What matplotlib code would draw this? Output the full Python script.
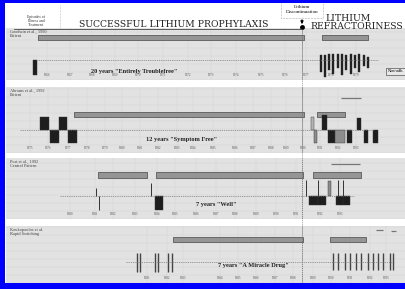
import numpy as np
import matplotlib.pyplot as plt

plt.rcParams['font.family'] = ['Liberation Serif', 'DejaVu Serif']

W, H = 406, 289

# time axis runs 0..100 (arbitrary units) for every panel
li_stop = 74.0  # lithium discontinued -> refractoriness

panel_names = ['Goodwin et al., 1990\nPatient', 'Abrams et al., 1992\nPatient',
               'Post et al., 1992\nCentral Pattern', 'Koukopoulos et al.\nRapid Switching']
panel_notes = ['20 years "Entirely Troublefree"', '12 years "Symptom Free"',
               '7 years "Well"', '7 years "A Miracle Drug"']

# lithium treatment periods (start, end)
p1_lithium = [(8.0, 74.5), (79.0, 90.5)]
p2_lithium = [(17.0, 74.5), (77.75, 84.75)]
p3_lithium = [(23.0, 35.25), (37.5, 74.25), (76.75, 88.75)]
p4_lithium = [(41.75, 74.25), (81.0, 90.0)]
lithium_level = [2.25, 1.55, 2.1, 2.25]

# other medication lines (start, end, level)
p2_other = [(83.75, 88.75, 3.2)]
p3_other = [(81.25, 88.5, 3.2)]
p4_other = [(92.5, 94.25, 3.2), (96.25, 97.5, 3.1)]

# mood episodes: start, end, level (+ mania, - depression), severity 1..3
p1_start = [6.75, 78.5, 78.5, 79.5, 79.5, 80.5, 80.5, 81.5, 81.5, 82.75, 82.75, 83.75, 83.75,
            84.75, 84.75, 86.0, 86.0, 87.0, 87.0, 88.0, 88.0, 89.25, 89.25, 90.25, 90.25]
p1_end = [7.75, 79.0, 79.0, 80.0, 80.0, 81.0, 81.0, 82.0, 82.0, 83.25, 83.25, 84.25, 84.25,
          85.25, 85.25, 86.5, 86.5, 87.5, 87.5, 88.5, 88.5, 89.75, 89.75, 90.75, 90.75]
p1_level = [-1.5, 0.5, -1.2, 0.5, -1.7, 0.6, -1.0, 0.6, -1.4, 0.6, -0.8, 0.6, -1.5,
            0.5, -1.0, 0.6, -1.4, 0.5, -0.8, 0.6, -1.2, 0.5, -0.6, 0.3, -0.8]
p1_sev = [3] * 25

p2_start = [8.5, 11.0, 13.25, 15.5, 76.25, 77.0, 79.0, 80.5, 82.25, 85.25, 87.75, 89.5, 91.75]
p2_end = [10.75, 13.25, 15.25, 17.75, 77.0, 77.75, 80.25, 82.25, 84.75, 86.5, 88.75, 90.5, 93.0]
p2_level = [1.3, -1.3, 1.3, -1.3, 1.3, -1.3, 1.5, -1.3, -1.3, -1.3, 1.2, -1.3, -1.3]
p2_sev = [3, 3, 3, 3, 1, 2, 3, 3, 2, 3, 3, 3, 3]

p3_start = [37.25, 75.75, 78.0, 80.5, 82.5, 84.25]
p3_end = [39.25, 78.0, 80.0, 81.25, 84.25, 86.0]
p3_level = [-1.45, -0.9, -0.9, 1.5, -0.9, -0.9]
p3_sev = [3, 3, 3, 2, 3, 3]
# brief switches drawn as thin strokes (time, level)
p3_spike_x = [22.5, 23.25, 36.25, 75.0, 78.0, 83.0, 84.25]
p3_spike_y = [0.8, -1.4, 1.3, 1.6, 1.6, 1.6, 1.6]

p4_spike_x = [32.75, 33.5, 37.25, 38.0, 40.5, 41.5,
              81.75, 83.0, 84.75, 86.0, 87.5, 88.75, 90.5, 91.75, 93.0, 94.25, 96.0, 96.75]
p4_up = [0.9] * 6 + [0.9] * 12
p4_down = [-1.0] * 6 + [-0.8] * 12

# baseline extent and year ticks of each panel
base_span = [(7.5, 93.0), (3.5, 92.0), (13.5, 87.0), (30.0, 97.0)]
p1_ticks = [10.25, 16, 21.5, 27.25, 33, 39.25, 45.5, 51.25, 57.5, 63.75, 69.75, 75, 81.25, 87.5]
p2_ticks = [6, 10.5, 15.5, 20.25, 24.75, 29, 33.5, 38, 42.75, 46.75, 51.75, 57.25, 61.75,
            66.25, 70, 74.25, 78.5, 83, 87.5]
p3_ticks = [16, 22.25, 26.75, 32.25, 37.75, 42.25, 47.5, 52.5, 57.25, 62.5, 67.5, 72.5, 78.5, 83.5]
p4_ticks = [35.25, 40.25, 44.25, 53.5, 58, 62.5, 67.25, 71.75, 76.75, 81.25, 86, 91, 95]
first_year = [1966, 1975, 1980, 1981]

note_pos = [(32.0, -1.1), (44.0, -1.0), (52.5, -0.9), (61.75, -0.35)]

shade = {1: '#b4b4b4', 2: '#8c8c8c', 3: '#1e1e1e'}

fig = plt.figure(figsize=(W / 100, H / 100), dpi=100)
fig.patch.set_facecolor('white')

panel_px = [(28, 80), (87, 153), (158, 219), (226, 283)]
panel_ylim = [(-2.0, 3.2), (-2.3, 4.3), (-2.3, 3.8), (-2.1, 3.6)]
lithiums = [p1_lithium, p2_lithium, p3_lithium, p4_lithium]
others = [[], p2_other, p3_other, p4_other]
episodes = [(p1_start, p1_end, p1_level, p1_sev), (p2_start, p2_end, p2_level, p2_sev),
            (p3_start, p3_end, p3_level, p3_sev), None]
ticks = [p1_ticks, p2_ticks, p3_ticks, p4_ticks]

for i, (top, bot) in enumerate(panel_px):
    ax = fig.add_axes([6 / W, 1 - bot / H, 400 / W, (bot - top) / H])
    ax.set_facecolor('#e2e2e2')
    ax.set_xlim(0, 100)
    ax.set_ylim(*panel_ylim[i])
    for s in ax.spines.values():
        s.set_visible(False)
    ax.set_xticks(ticks[i])
    ax.set_xticklabels([str(first_year[i] + k) for k in range(len(ticks[i]))],
                       fontsize=2.3, color='#555555')
    ax.tick_params(axis='x', length=0, pad=-5)
    ax.set_yticks(np.arange(panel_ylim[i][0], panel_ylim[i][1], 0.8))
    ax.tick_params(axis='y', length=0, labelleft=False)
    ax.grid(True, color='#d3d3d3', lw=0.35)
    ax.set_axisbelow(True)

    ax.hlines(0, *base_span[i], color='#6e6e6e', lw=0.45, ls=(0, (2, 1.5)))

    y = lithium_level[i]
    ax.broken_barh([(a, b - a) for a, b in lithiums[i]], (y - 0.27, 0.54),
                   facecolors='#959595', edgecolors='#5a5a5a', lw=0.6)
    for a, b, lv in others[i]:
        ax.hlines(lv, a, b, color='#777777', lw=0.9)

    if episodes[i] is not None:
        st, en, lv, sv = episodes[i]
        ax.bar(st, lv, width=np.array(en) - np.array(st), align='edge',
               color=[shade[s] for s in sv], edgecolor='#333333', lw=0.3)

    ax.text(1.0, panel_ylim[i][1] - 0.15, panel_names[i], fontsize=3.2, va='top',
            color='#444444', linespacing=1.0)
    ax.text(*note_pos[i], panel_notes[i], fontsize=4.6, fontweight='bold',
            ha='center', va='center', color='#222222')
    ax.axvline(li_stop, color='#777777', lw=0.5, ls=(0, (1.5, 1.5)))

    if i == 0:
        ax.text(97.5, -1.15, 'Non-adh.', fontsize=3.2, ha='center', va='center',
                bbox=dict(boxstyle='square,pad=0.4', fc='#e8e8e8', ec='#555555', lw=0.5))
    if i == 2:
        ax.vlines(p3_spike_x, 0, p3_spike_y, color='#333333', lw=0.7)
    if i == 3:
        ax.vlines(p4_spike_x, 0, p4_up, color='#444444', lw=1.0)
        ax.vlines(p4_spike_x, 0, p4_down, color='#444444', lw=1.0)

# header and the dashed "lithium stopped" line across all panels
over = fig.add_axes([6 / W, 0, 400 / W, 1], facecolor='none')
over.set_xlim(0, 100)
over.set_ylim(0, 1)
over.axis('off')
over.plot([li_stop, li_stop], [1 - 28 / H, 1 - 283 / H], color='#777777', lw=0.5,
          ls=(0, (1.5, 1.5)))
over.annotate('', xy=(li_stop, 1 - 27 / H), xytext=(li_stop, 1 - 17 / H),
              arrowprops=dict(arrowstyle='-|>', color='black', lw=0.8, mutation_scale=4))
over.plot([li_stop], [1 - 27 / H], 'o', color='black', ms=2.5)
over.text(li_stop, 1 - 9.5 / H, 'Lithium\nDiscontinuation', fontsize=3.6, ha='center',
          va='center', linespacing=1.15,
          bbox=dict(boxstyle='square,pad=0.9', fc='white', ec='#666666', lw=0.4, ls=':'))
over.plot([13.5, 13.5], [1 - 5 / H, 1 - 28 / H], color='#888888', lw=0.4, ls=':')
over.text(7.5, 1 - 21 / H, 'Episodes of\nIllness and\nTreatment', fontsize=2.8,
          ha='center', va='center', linespacing=1.0, color='#333333')

hfont = dict(family='DejaVu Serif', fontsize=6.7, color='#222222', va='center')
fig.text(174 / W, 1 - 24.5 / H, 'SUCCESSFUL LITHIUM PROPHYLAXIS', ha='center', **hfont)
fig.text(348 / W, 1 - 18.5 / H, 'LITHIUM', ha='center', **hfont)
fig.text(357 / W, 1 - 26.5 / H, 'REFRACTORINESS', ha='center', **hfont)
fig.add_artist(plt.Line2D([14 / W, 302 / W], [1 - 28.5 / H, 1 - 28.5 / H],
                          color='#444444', lw=0.6))

# blue frame of the original screenshot
for rect in [(0, 0, 5 / W, 1), (0, 1 - 3 / H, 1, 3 / H), (0, 0, 1, 6 / H)]:
    fig.add_artist(plt.Rectangle(rect[:2], rect[2], rect[3], facecolor='#0000ff', lw=0,
                                 transform=fig.transFigure))

fig.savefig('out.png', dpi=100)
